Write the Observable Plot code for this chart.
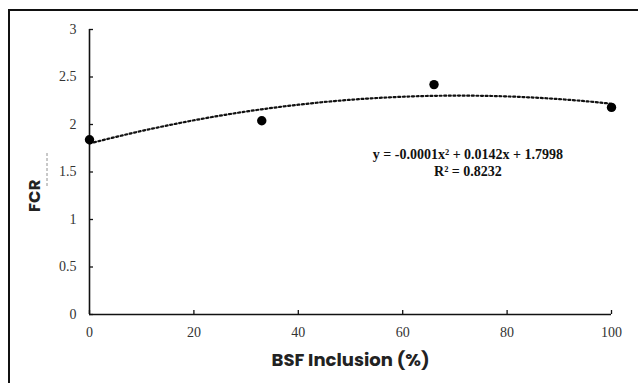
<!DOCTYPE html>
<html>
<head>
<meta charset="utf-8">
<script src="https://cdn.jsdelivr.net/npm/d3@7"></script>
<script src="https://cdn.jsdelivr.net/npm/@observablehq/plot@0.6"></script>
<style>
  html, body { margin: 0; padding: 0; background: #fff; }
  #wrap { position: relative; width: 638px; height: 383px; overflow: hidden; }
  #frame { position: absolute; left: 8px; top: 9px; width: 700px; height: 400px;
           border-top: 2.5px solid #111; border-left: 2.5px solid #111; pointer-events: none; }
</style>
</head>
<body>
<div id="wrap"><div id="frame"></div></div>
<script>
// Data
const inclusion = [0, 33, 66, 100];
const fcr = [1.84, 2.04, 2.42, 2.18];
const xTicks = [0, 20, 40, 60, 80, 100];
const yTicks = [0, 0.5, 1, 1.5, 2, 2.5, 3];
const equationLines = ["y = -0.0001x² + 0.0142x + 1.7998", "R² = 0.8232"];
const xLabel = "BSF Inclusion (%)";
const yLabel = "FCR";

const points = inclusion.map((x, i) => ({x, y: fcr[i]}));

// Least-squares quadratic fit of the points (the trendline)
function quadFit(xs, ys) {
  const S = k => d3.sum(xs, x => x ** k);
  const T = k => d3.sum(xs, (x, i) => x ** k * ys[i]);
  const A = [[S(4), S(3), S(2)], [S(3), S(2), S(1)], [S(2), S(1), S(0)]];
  const b = [T(2), T(1), T(0)];
  const n = 3;
  for (let i = 0; i < n; i++) {
    for (let j = i + 1; j < n; j++) {
      const f = A[j][i] / A[i][i];
      for (let k = i; k < n; k++) A[j][k] -= f * A[i][k];
      b[j] -= f * b[i];
    }
  }
  const c = [0, 0, 0];
  for (let i = n - 1; i >= 0; i--) {
    let s = b[i];
    for (let k = i + 1; k < n; k++) s -= A[i][k] * c[k];
    c[i] = s / A[i][i];
  }
  return c;
}
const [qa, qb, qc] = quadFit(inclusion, fcr);
const curve = d3.range(0, 100.5, 0.5).map(x => ({x, y: qa * x * x + qb * x + qc}));

const serif = "'Liberation Serif', 'Times New Roman', serif";
const sans = "Poppins, 'Open Sans', 'DejaVu Sans', sans-serif";

const chart = Plot.plot({
  width: 638,
  height: 383,
  marginLeft: 89,
  marginRight: 27,
  marginTop: 29,
  marginBottom: 69,
  style: {background: "transparent", color: "#111", overflow: "visible"},
  x: {domain: [0, 100]},
  y: {domain: [0, 3]},
  marks: [
    Plot.ruleX([0], {stroke: "#111", strokeWidth: 1.6}),
    Plot.ruleY([0], {stroke: "#111", strokeWidth: 1.6}),
    Plot.axisY({ticks: yTicks, tickSize: -4, tickPadding: 17, tickFormat: d => String(d),
      label: null, fontSize: 14, fontFamily: serif, fill: "#333", stroke: "#111", strokeWidth: 1.3}),
    Plot.axisX({ticks: xTicks, tickSize: -4, tickPadding: 17, tickFormat: d => String(d),
      label: null, fontSize: 14, fontFamily: serif, fill: "#333", stroke: "#111", strokeWidth: 1.3}),
    Plot.line(curve, {x: "x", y: "y", stroke: "#111", strokeWidth: 2.2, strokeDasharray: "2,2.6"}),
    Plot.dot(points, {x: "x", y: "y", r: 4.7, fill: "#000"}),
    Plot.text([equationLines.join("\n")], {x: 72.5, y: 1.6, fontFamily: serif, fontWeight: "bold",
      fontSize: 14, lineHeight: 1.2, fill: "#111"}),
    Plot.text([xLabel], {frameAnchor: "bottom", dy: 45.5, textAnchor: "middle", lineAnchor: "middle",
      fontFamily: sans, fontWeight: "bold", fontSize: 18, fill: "#222"}),
    Plot.text([yLabel], {frameAnchor: "left", y: 1.25, dx: -55, rotate: -90, textAnchor: "middle",
      lineAnchor: "middle", fontFamily: sans, fontWeight: "bold", fontSize: 16.5, fill: "#222"})
  ]
});
chart.style.position = "absolute";
chart.style.left = "0px";
chart.style.top = "0px";
d3.select(chart).append("line")
  .attr("x1", 47).attr("x2", 47).attr("y1", 153).attr("y2", 188)
  .attr("stroke", "#777").attr("stroke-width", 0.8).attr("stroke-dasharray", "3,2");
document.getElementById("wrap").appendChild(chart);
</script>
</body>
</html>
